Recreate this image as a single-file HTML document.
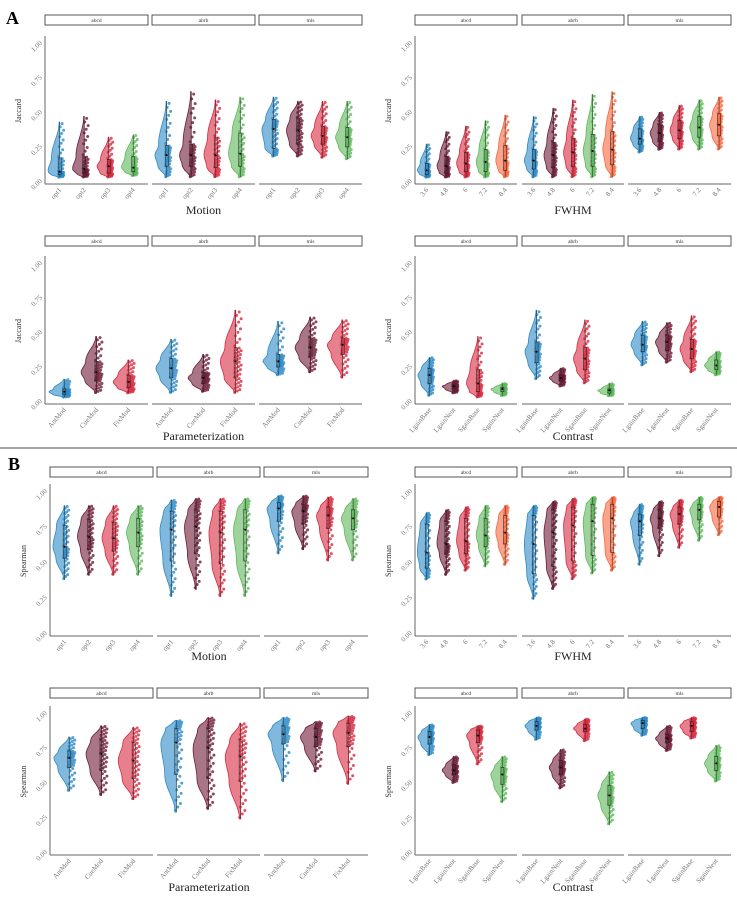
<!DOCTYPE html>
<html><head><meta charset="utf-8"><style>
body{margin:0;background:#fff;}
svg{display:block;font-family:"Liberation Serif",serif;}
</style></head><body>
<svg id="fig" width="737" height="899" viewBox="0 0 737 899">
<text x="6" y="24" font-size="18" font-weight="bold">A</text>
<line x1="0" y1="448" x2="737" y2="448" stroke="#888" stroke-width="1.5"/>
<text x="8" y="470" font-size="18" font-weight="bold">B</text>
</svg>
<script>
const facets=["abcd","abrb","mls"];
const motionCats=["opt1","opt2","opt3","opt4"];
const fwhmCats=["3.6","4.8","6","7.2","8.4"];
const paramCats=["AntMod","CueMod","FixMod"];
const contrastCats=["LgainBase","LgainNeut","SgainBase","SgainNeut"];
const yTicks=[0,0.25,0.5,0.75,1];
const yTickLabels=["0.00","0.25","0.50","0.75","1.00"];
// each group: [min,q1,median,q3,max]
const jacMotion=[[[0.02,0.04,0.06,0.16,0.42],[0.02,0.05,0.08,0.17,0.46],[0.02,0.05,0.10,0.15,0.31],[0.03,0.06,0.09,0.17,0.33]],
[[0.02,0.10,0.18,0.25,0.57],[0.02,0.10,0.18,0.26,0.64],[0.02,0.09,0.18,0.31,0.58],[0.02,0.10,0.19,0.34,0.60]],
[[0.17,0.23,0.37,0.44,0.60],[0.17,0.26,0.36,0.45,0.57],[0.16,0.26,0.32,0.39,0.57],[0.15,0.24,0.31,0.38,0.57]]];
const jacFwhm=[[[0.02,0.04,0.07,0.12,0.26],[0.02,0.05,0.10,0.17,0.35],[0.02,0.06,0.12,0.20,0.39],[0.02,0.06,0.13,0.22,0.43],[0.02,0.07,0.14,0.25,0.47]],
[[0.02,0.08,0.14,0.22,0.46],[0.02,0.09,0.18,0.27,0.52],[0.02,0.10,0.20,0.30,0.58],[0.02,0.10,0.21,0.33,0.62],[0.02,0.11,0.22,0.35,0.64]],
[[0.20,0.26,0.30,0.37,0.46],[0.22,0.28,0.34,0.40,0.49],[0.22,0.30,0.36,0.43,0.54],[0.22,0.31,0.38,0.46,0.58],[0.22,0.32,0.40,0.48,0.60]]];
const jacParam=[[[0.02,0.04,0.06,0.08,0.15],[0.05,0.14,0.20,0.28,0.46],[0.05,0.09,0.13,0.18,0.29]],
[[0.05,0.16,0.23,0.30,0.44],[0.06,0.12,0.16,0.20,0.33],[0.05,0.16,0.28,0.38,0.65]],
[[0.18,0.24,0.28,0.33,0.57],[0.20,0.31,0.38,0.45,0.60],[0.16,0.33,0.40,0.45,0.58]]];
const jacContrast=[[[0.03,0.12,0.18,0.23,0.31],[0.05,0.08,0.10,0.11,0.14],[0.02,0.06,0.12,0.22,0.46],[0.03,0.06,0.08,0.09,0.12]],
[[0.15,0.27,0.35,0.42,0.65],[0.10,0.14,0.16,0.18,0.23],[0.12,0.22,0.30,0.38,0.58],[0.03,0.05,0.07,0.08,0.12]],
[[0.25,0.35,0.40,0.47,0.57],[0.27,0.36,0.42,0.47,0.56],[0.20,0.30,0.37,0.44,0.61],[0.18,0.22,0.25,0.29,0.35]]];
const spMotion=[[[0.37,0.52,0.60,0.75,0.89],[0.40,0.58,0.67,0.79,0.89],[0.40,0.57,0.66,0.77,0.89],[0.40,0.60,0.70,0.80,0.89]],
[[0.25,0.50,0.72,0.85,0.93],[0.30,0.55,0.74,0.86,0.94],[0.25,0.48,0.70,0.85,0.94],[0.25,0.50,0.72,0.86,0.94]],
[[0.55,0.78,0.87,0.91,0.96],[0.58,0.76,0.85,0.90,0.96],[0.50,0.73,0.82,0.88,0.95],[0.50,0.72,0.80,0.86,0.94]]];
const spFwhm=[[[0.37,0.45,0.56,0.76,0.84],[0.40,0.55,0.62,0.78,0.86],[0.43,0.55,0.64,0.80,0.88],[0.46,0.60,0.68,0.80,0.89],[0.47,0.62,0.70,0.82,0.89]],
[[0.23,0.41,0.62,0.82,0.89],[0.30,0.46,0.70,0.86,0.92],[0.37,0.50,0.75,0.88,0.94],[0.41,0.54,0.78,0.90,0.95],[0.43,0.56,0.80,0.90,0.95]],
[[0.47,0.68,0.78,0.83,0.90],[0.53,0.73,0.80,0.86,0.92],[0.59,0.76,0.83,0.88,0.93],[0.64,0.79,0.86,0.90,0.95],[0.68,0.81,0.88,0.92,0.95]]];
const spParam=[[[0.43,0.60,0.67,0.72,0.82],[0.40,0.58,0.70,0.80,0.90],[0.37,0.52,0.65,0.78,0.89]],
[[0.28,0.55,0.78,0.88,0.94],[0.30,0.52,0.74,0.88,0.96],[0.23,0.50,0.68,0.80,0.92]],
[[0.50,0.77,0.84,0.90,0.96],[0.57,0.75,0.82,0.88,0.93],[0.48,0.75,0.85,0.92,0.97]]];
const spContrast=[[[0.69,0.77,0.82,0.86,0.91],[0.49,0.55,0.58,0.62,0.68],[0.62,0.78,0.83,0.87,0.90],[0.35,0.48,0.55,0.60,0.68]],
[[0.80,0.87,0.90,0.93,0.96],[0.45,0.55,0.60,0.65,0.73],[0.79,0.86,0.88,0.91,0.95],[0.19,0.33,0.40,0.47,0.57]],
[[0.83,0.88,0.92,0.94,0.96],[0.72,0.78,0.81,0.84,0.90],[0.81,0.86,0.90,0.93,0.96],[0.50,0.58,0.63,0.68,0.76]]];

const COLORS=["#2c8ac6","#6e1a35","#d8293f","#5db85a","#f7673f"];
const NS="http://www.w3.org/2000/svg";
const svg=document.getElementById('fig');
function mk(tag,attrs,parent){const e=document.createElementNS(NS,tag);for(const k in attrs)e.setAttribute(k,attrs[k]);(parent||svg).appendChild(e);return e;}

function drawPlot(name,left,strip,y1,y0,yTitle,xTitle,cats,data,titleY){
  const g=mk('g',{});
  
  
  const yScale=v=>y0-(y0-y1)*v;
  const axisY=y0+4;
  const fx=left[0][0];
  const ya=mk('line',{x1:fx,y1:y1-6,x2:fx,y2:axisY,stroke:'#666','stroke-width':1},g);
  
  
  yTicks.forEach((t,i)=>{
    const y=yScale(t);
    const tl=mk('text',{x:fx-4,y:y+2,'font-size':7,fill:'#777','text-anchor':'end',transform:`rotate(-45 ${fx-4} ${y})`},g);
    tl.textContent=yTickLabels[i];
    
    
  });
  const yt=mk('text',{x:fx-24,y:(y1+y0)/2,'font-size':8,fill:'#333','text-anchor':'middle',transform:`rotate(-90 ${fx-24} ${(y1+y0)/2})`},g);
  yt.textContent=yTitle;
  
  
  left.forEach((f,fi)=>{
    const x0=f[0],w=f[1]-f[0],n=cats.length;
    const sr=mk('rect',{x:x0,y:strip,width:w,height:10,fill:'#fff',stroke:'#555','stroke-width':1},g);
    
    
    const st=mk('text',{x:x0+w/2,y:strip+7,'font-size':5.5,fill:'#333','text-anchor':'middle'},g);
    st.textContent=facets[fi];
    
    
    const xa=mk('line',{x1:x0,y1:axisY,x2:f[1],y2:axisY,stroke:'#666','stroke-width':1},g);
    
    
    const sp=w/(n+0.2);
    cats.forEach((c,i)=>{
      const xc=x0+sp*(i+0.6);
      const s=data[fi][i];const col=COLORS[i];
      const vw=sp*0.48;
      const ks=[[s[0],0.08],[s[1],0.75],[s[2],1],[s[3],0.7],[s[4],0.05]];
      let pts=[];
      const N=24;
      for(let k=0;k<=N;k++){
        const t=k/N;const v=s[0]+(s[4]-s[0])*t;
        let wd=0;
        for(let j=0;j<4;j++){if(v>=ks[j][0]&&v<=ks[j+1][0]){const a=(v-ks[j][0])/Math.max(1e-6,ks[j+1][0]-ks[j][0]);const sm=(1-Math.cos(Math.PI*a))/2;wd=ks[j][1]+(ks[j+1][1]-ks[j][1])*sm;break;}}
        pts.push([xc-vw*wd,yScale(v)]);
      }
      let d=`M${xc},${yScale(s[0])} `+pts.map(p=>`L${p[0].toFixed(1)},${p[1].toFixed(1)}`).join(' ')+` L${xc},${yScale(s[4])} Z`;
      const vi=mk('path',{d:d,fill:col,'fill-opacity':0.6,stroke:col,'stroke-width':0.8},g);
      
      
      const NP=44;
      for(let k=0;k<NP;k++){
        const q=(k+0.5)/NP;
        let v;
        if(q<0.25)v=s[0]+(s[1]-s[0])*(q/0.25);
        else if(q<0.5)v=s[1]+(s[2]-s[1])*((q-0.25)/0.25);
        else if(q<0.75)v=s[2]+(s[3]-s[2])*((q-0.5)/0.25);
        else v=s[3]+(s[4]-s[3])*((q-0.75)/0.25);
        const jx=((k*37)%11)/11;
        const pc=mk('circle',{cx:xc-1+jx*sp*0.22,cy:yScale(v),r:1.5,fill:col,'fill-opacity':0.8},g);
        
        
      }
      const bx=mk('rect',{x:xc-1.5,y:yScale(s[3]),width:3,height:yScale(s[1])-yScale(s[3]),fill:'none',stroke:'#222','stroke-width':0.6},g);
      
      
      mk('line',{x1:xc,y1:yScale(s[4]),x2:xc,y2:yScale(s[3]),stroke:'#333','stroke-width':0.5},g);
      mk('line',{x1:xc,y1:yScale(s[1]),x2:xc,y2:yScale(s[0]),stroke:'#333','stroke-width':0.5},g);
      mk('circle',{cx:xc,cy:yScale(s[2]),r:1,fill:'#000'},g);
      const tx=xc+2,ty=axisY+6;
      const tl=mk('text',{x:tx,y:ty,'font-size':7,fill:'#777','text-anchor':'end',transform:`rotate(-50 ${tx} ${ty})`},g);
      tl.textContent=c;
      
      
    });
  });
  const cx=(left[0][0]+left[2][1])/2;
  const xt=mk('text',{x:cx,y:titleY,'font-size':12,fill:'#222','text-anchor':'middle'},g);
  xt.textContent=xTitle;
  
  
}
const LA=[[45,148],[152,255],[259,362]];
const RA=[[415,517],[522,624],[628,731]];
const LB=[[50,153],[157,260],[264,368]];
drawPlot('jaccard-motion',LA,15,42,180,'Jaccard','Motion',motionCats,jacMotion,214);
drawPlot('jaccard-fwhm',RA,15,42,180,'Jaccard','FWHM',fwhmCats,jacFwhm,214);
drawPlot('jaccard-param',LA,236,262,400,'Jaccard','Parameterization',paramCats,jacParam,440);
drawPlot('jaccard-contrast',RA,236,262,400,'Jaccard','Contrast',contrastCats,jacContrast,440);
drawPlot('spearman-motion',LB,467,490,632,'Spearman','Motion',motionCats,spMotion,660);
drawPlot('spearman-fwhm',RA,467,490,632,'Spearman','FWHM',fwhmCats,spFwhm,660);
drawPlot('spearman-param',LB,688,712,851,'Spearman','Parameterization',paramCats,spParam,891);
drawPlot('spearman-contrast',RA,688,712,851,'Spearman','Contrast',contrastCats,spContrast,891);
</script>
</body></html>
